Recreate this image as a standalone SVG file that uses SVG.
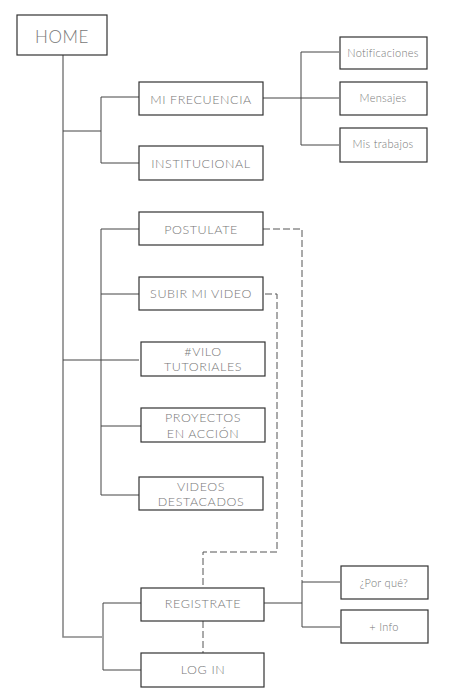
<svg xmlns="http://www.w3.org/2000/svg" width="450" height="700" viewBox="0 0 450 700">
<style>
.box{fill:#fff;stroke:#333;stroke-width:1.2}
.t{font-family:Lato,"Liberation Sans",sans-serif;font-weight:300;fill:#777;text-anchor:middle;font-size:12.5px;letter-spacing:0.6px}
.s{font-size:11px;letter-spacing:0.3px}
.ln{fill:none;stroke:#444;stroke-width:1}
.main{fill:none;stroke:#888;stroke-width:1.6}
.d{fill:none;stroke:#555;stroke-width:1;stroke-dasharray:7,3}
</style>
<rect width="450" height="700" fill="#fff"/>
<g id="connectors">
<path class="main" d="M63 55V637H102"/>
<path class="ln" d="M63 131H101M139 97H101V163H139"/>
<path class="ln" d="M263 98H301M339 52H301V145H339M301 98H339"/>
<path class="ln" d="M63 360H139M139 229H101V495H139M101 294H139M101 426H141"/>
<path class="d" d="M263 229H302V582"/>
<path class="ln" d="M302 582V627H340M302 582H340M264 603H302"/>
<path class="d" d="M265 294H277V552H203V588"/>
<path class="d" d="M203 621V653"/>
<path class="ln" d="M141 603H103V670H141"/>
</g>
<g id="home"><rect class="box" x="17" y="15" width="90" height="40"/><text class="t" x="62" y="43" style="font-size:17px">HOME</text></g>
<g id="mifrecuencia"><rect class="box" x="139" y="82" width="124" height="33"/><text class="t" x="201" y="104">MI FRECUENCIA</text></g>
<g id="institucional"><rect class="box" x="139" y="146" width="124" height="34"/><text class="t" x="201" y="168">INSTITUCIONAL</text></g>
<g id="notificaciones"><rect class="box" x="340" y="37" width="87" height="32"/><text class="t s" x="383" y="57">Notificaciones</text></g>
<g id="mensajes"><rect class="box" x="340" y="82" width="87" height="33"/><text class="t s" x="383" y="102">Mensajes</text></g>
<g id="mistrabajos"><rect class="box" x="340" y="128" width="87" height="34"/><text class="t s" x="383" y="148">Mis trabajos</text></g>
<g id="postulate"><rect class="box" x="139" y="212" width="124" height="33"/><text class="t" x="201" y="234">POSTULATE</text></g>
<g id="subir"><rect class="box" x="139" y="277" width="124" height="33"/><text class="t" x="201" y="298">SUBIR MI VIDEO</text></g>
<g id="vilo"><rect class="box" x="141" y="342" width="124" height="34"/><text class="t" x="203" y="356">#VILO</text><text class="t" x="203" y="371">TUTORIALES</text></g>
<g id="proyectos"><rect class="box" x="141" y="408" width="124" height="34"/><text class="t" x="203" y="422">PROYECTOS</text><text class="t" x="203" y="438">EN ACCIÓN</text></g>
<g id="videos"><rect class="box" x="139" y="477" width="124" height="33"/><text class="t" x="201" y="491">VIDEOS</text><text class="t" x="201" y="506">DESTACADOS</text></g>
<g id="registrate"><rect class="box" x="141" y="588" width="123" height="33"/><text class="t" x="203" y="608">REGISTRATE</text></g>
<g id="login"><rect class="box" x="141" y="653" width="123" height="34"/><text class="t" x="203" y="674">LOG IN</text></g>
<g id="porque"><rect class="box" x="341" y="566" width="87" height="33"/><text class="t s" x="384" y="587">¿Por qué?</text></g>
<g id="info"><rect class="box" x="341" y="610" width="87" height="33"/><text class="t s" x="384" y="631">+ Info</text></g>
</svg>
